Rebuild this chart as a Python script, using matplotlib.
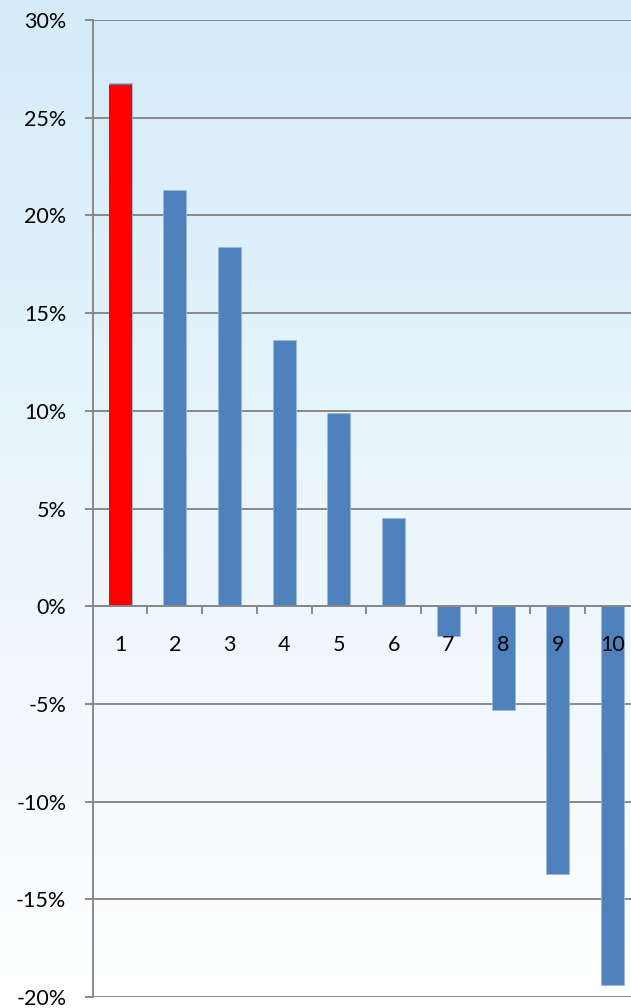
import matplotlib
matplotlib.use('Agg')
import matplotlib.pyplot as plt
import numpy as np
from matplotlib.colors import LinearSegmentedColormap
from matplotlib.ticker import FixedLocator, FuncFormatter

plt.rcParams['font.family'] = ['Lato', 'DejaVu Sans']

# --- data ---
categories = [1, 2, 3, 4, 5, 6, 7, 8, 9, 10]
values = [26.8, 21.3, 18.4, 13.6, 9.9, 4.5, -1.5, -5.3, -13.7, -19.4]
highlight_value = 26.7   # red bar drawn over bar 1
y_ticks = [-20, -15, -10, -5, 0, 5, 10, 15, 20, 25, 30]

BLUE = '#4F81BD'
RED = '#FF0000'
GRAY = '#898989'
LW = 1.4

fig = plt.figure(figsize=(6.31, 10.08), dpi=100)

# gradient background over the whole picture
bg = fig.add_axes([0, 0, 1, 1], zorder=-10)
cmap = LinearSegmentedColormap.from_list('bg', ['#D4ECF9', '#EAF5FC', '#FFFFFF'])
bg.imshow(np.linspace(0, 1, 256).reshape(-1, 1), aspect='auto', cmap=cmap,
          extent=[0, 1, 0, 1])
bg.axis('off')

# axes run slightly past the right edge (chart is cropped there)
ax = fig.add_axes([0.147, 0.0109, 0.867, 0.9692])
ax.patch.set_visible(False)

# gridlines behind the bars, tick labels in front of them
for t in y_ticks:
    ax.axhline(t, color=GRAY, linewidth=LW, zorder=0.5)

ax.bar(categories, values, width=0.42, color=BLUE, edgecolor='#9DB9DC',
       linewidth=0.5, zorder=1)
ax.bar(categories[:1], [highlight_value], width=0.42, color=RED, zorder=1.1)

ax.set_xlim(0.5, 10.5)
ax.set_ylim(-20, 30)

ax.set_yticks(y_ticks)
ax.yaxis.set_major_formatter(FuncFormatter(lambda v, p: f'{v:.0f}%'))

for side in ['top', 'right']:
    ax.spines[side].set_visible(False)
ax.spines['left'].set_color(GRAY)
ax.spines['left'].set_linewidth(LW)
ax.spines['bottom'].set_position(('data', 0))
ax.spines['bottom'].set_color(GRAY)
ax.spines['bottom'].set_linewidth(LW)

# labels at the bar centres, tick marks between the categories
ax.set_xticks(categories)
ax.set_xticklabels([str(c) for c in categories])
ax.tick_params(axis='x', which='major', length=0, pad=21, labelsize=15.5)
ax.xaxis.set_minor_locator(FixedLocator(np.arange(1.5, 10.5, 1.0)))
ax.tick_params(axis='x', which='minor', length=6, width=LW, color=GRAY,
               direction='out')
ax.tick_params(axis='y', length=6, width=LW, color=GRAY, labelsize=15.5, pad=13)

fig.savefig('out.png', dpi=100)
